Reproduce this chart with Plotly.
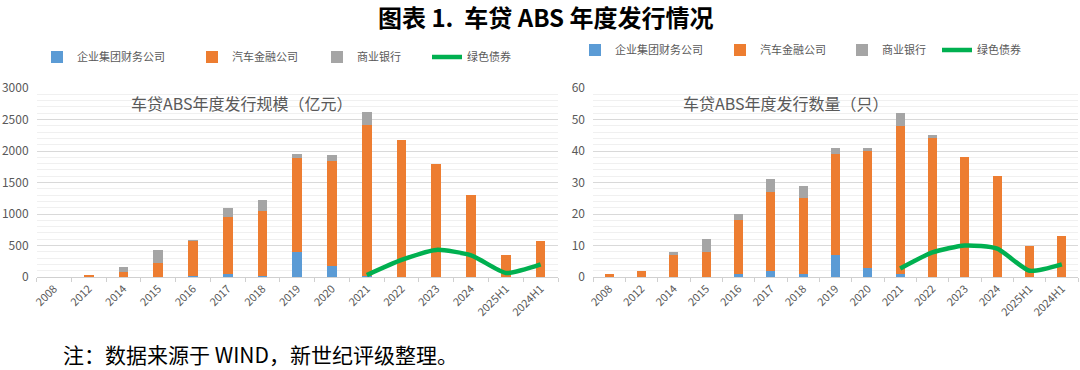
import plotly.graph_objects as go

categories = ["2008", "2012", "2014", "2015", "2016", "2017", "2018", "2019", "2020",
              "2021", "2022", "2023", "2024", "2025H1", "2024H1"]

# 发行规模（亿元）
amt_corp = [0, 0, 0, 0, 15, 50, 20, 400, 175, 10, 0, 0, 0, 0, 0]
amt_auto = [0, 25, 80, 230, 560, 910, 1025, 1490, 1660, 2400, 2170, 1790, 1295, 345, 570]
amt_bank = [0, 0, 75, 195, 10, 135, 180, 70, 95, 210, 0, 0, 0, 0, 0]
amt_green = [None, None, None, None, None, None, None, None, None, 30, 270, 430, 345, 65, 200]

# 发行数量（只）
cnt_corp = [0, 0, 0, 0, 1, 2, 1, 7, 3, 1, 0, 0, 0, 0, 0]
cnt_auto = [1, 2, 7, 8, 17, 25, 24, 32, 37, 47, 44, 38, 32, 10, 13]
cnt_bank = [0, 0, 1, 4, 2, 4, 4, 2, 1, 4, 1, 0, 0, 0, 0]
cnt_green = [None, None, None, None, None, None, None, None, None, 2.7, 7.8, 10, 9, 2, 4]

series_names = ["企业集团财务公司", "汽车金融公司", "商业银行", "绿色债券"]
colors = ["#5b9bd5", "#ed7d31", "#a5a5a5", "#00b050"]

FONT = "Noto Sans CJK SC"
W, H = 1080, 370


def px(X):
    return X / W


def py(Y):
    return 1 - Y / H


fig = go.Figure()

legend_ids = [["legend", "legend2", "legend3", "legend4"],
              ["legend5", "legend6", "legend7", "legend8"]]


def add_panel(xa, ya, legs, vals, green):
    for name, v, c, lg in zip(series_names[:3], vals, colors[:3], legs[:3]):
        fig.add_trace(go.Bar(x=categories, y=v, name=name, marker_color=c,
                             marker_line_width=0, xaxis=xa, yaxis=ya, legend=lg))
    fig.add_trace(go.Scatter(x=categories, y=green, name=series_names[3], mode="lines",
                             line=dict(color=colors[3], width=4.5, shape="spline", smoothing=0.6),
                             xaxis=xa, yaxis=ya, legend=legs[3], connectgaps=False))


add_panel("x", "y", legend_ids[0], [amt_corp, amt_auto, amt_bank], amt_green)
add_panel("x2", "y2", legend_ids[1], [cnt_corp, cnt_auto, cnt_bank], cnt_green)

xcommon = dict(type="category", tickangle=-45, tickfont=dict(size=11, color="#595959", family=FONT),
               showline=True, linecolor="#d0d0d0", linewidth=1, ticks="outside",
               tickcolor="#d0d0d0", ticklen=4, tickson="boundaries", showgrid=False)
ydom = [py(277), py(88)]

legcommon = dict(orientation="h", xanchor="left", yanchor="middle",
                 font=dict(size=11, color="#595959"), bgcolor="rgba(0,0,0,0)", itemwidth=30)

legend_x = [[37, 192, 317, 427], [575, 720, 842, 937]]
legend_y = [57, 50]
legends = {}
for p in range(2):
    for i in range(4):
        legends[legend_ids[p][i]] = dict(x=px(legend_x[p][i]), y=py(legend_y[p]), **legcommon)

fig.update_layout(
    width=W, height=H,
    margin=dict(l=0, r=0, t=0, b=0, autoexpand=False),
    paper_bgcolor="white", plot_bgcolor="white",
    barmode="stack", bargap=0.72,
    showlegend=True,
    font=dict(family=FONT, color="#595959"),
    xaxis=dict(domain=[px(36.6), px(558)], anchor="y", **xcommon),
    xaxis2=dict(domain=[px(593), px(1078)], anchor="y2", **xcommon),
    yaxis=dict(domain=ydom, anchor="x", range=[0, 3000], dtick=500, ticklabelstandoff=7,
               tickfont=dict(size=12, color="#595959"), showgrid=True, gridcolor="#d9d9d9",
               zeroline=False, ticks="", minor=dict(dtick=100, showgrid=True, gridcolor="#f0f0f0")),
    yaxis2=dict(domain=ydom, anchor="x2", range=[0, 60], dtick=10, ticklabelstandoff=7,
                tickfont=dict(size=12, color="#595959"), showgrid=True, gridcolor="#d9d9d9",
                zeroline=False, ticks="", minor=dict(dtick=2, showgrid=True, gridcolor="#f0f0f0")),
    annotations=[
        dict(text="<b>图表 1.  车贷 ABS 年度发行情况</b>", x=px(545), y=py(17), xref="paper",
             yref="paper", xanchor="center", yanchor="middle", showarrow=False,
             font=dict(size=24, color="black", family=FONT)),
        dict(text="车贷ABS年度发行规模（亿元）", x=px(242), y=py(103), xref="paper",
             yref="paper", xanchor="center", yanchor="middle", showarrow=False,
             font=dict(size=16, color="#595959", family=FONT)),
        dict(text="车贷ABS年度发行数量（只）", x=px(786), y=py(103), xref="paper",
             yref="paper", xanchor="center", yanchor="middle", showarrow=False,
             font=dict(size=16, color="#595959", family=FONT)),
        dict(text="注：数据来源于 WIND，新世纪评级整理。", x=px(61), y=py(354),
             xref="paper", yref="paper", xanchor="left", yanchor="middle", showarrow=False,
             font=dict(size=21, color="black", family=FONT)),
    ],
)
fig.update_layout(**legends)

fig.write_html("out.html", config={"displayModeBar": False},
               post_script="document.body.style.margin='0';")
